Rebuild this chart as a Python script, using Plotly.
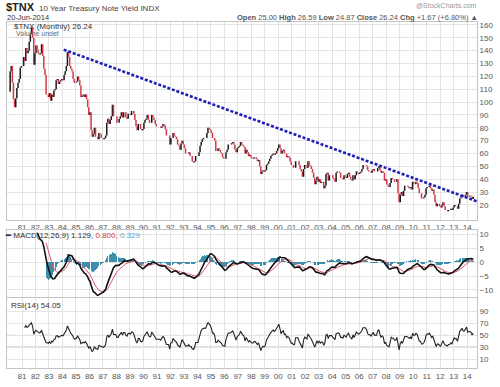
import numpy as np
import pandas as pd
import plotly.graph_objects as go

# ---- Monthly $TNX closes (yield x10) ----
tnx_1980 = [108, 124, 128, 115, 102, 96, 103, 111, 115, 118, 127, 128]
tnx_1981 = [128, 135, 132, 142, 138, 140, 147, 153, 158, 150, 129, 138]
tnx_1982 = [144, 141, 138, 137, 138, 145, 136, 126, 121, 106, 106, 104]
tnx_1983 = [107, 101, 106, 104, 109, 110, 117, 118, 114, 116, 117, 118]
tnx_1984 = [117, 121, 124, 128, 139, 135, 128, 126, 124, 118, 115, 115]
tnx_1985 = [116, 120, 117, 113, 104, 105, 106, 104, 106, 102, 96, 90]
tnx_1986 = [92, 78, 73, 75, 80, 73, 73, 71, 76, 75, 72, 72]
tnx_1987 = [71, 72, 74, 84, 87, 83, 86, 89, 98, 89, 89, 89]
tnx_1988 = [84, 84, 87, 89, 92, 88, 92, 92, 88, 87, 91, 91]
tnx_1989 = [90, 93, 93, 91, 86, 81, 78, 83, 83, 79, 78, 79]
tnx_1990 = [84, 86, 87, 90, 86, 84, 84, 90, 88, 86, 83, 81]
tnx_1991 = [81, 81, 81, 80, 81, 83, 82, 79, 74, 74, 74, 67]
tnx_1992 = [72, 72, 76, 74, 73, 71, 67, 66, 63, 68, 70, 67]
tnx_1993 = [64, 60, 60, 60, 61, 58, 58, 54, 53, 54, 58, 58]
tnx_1994 = [58, 61, 66, 69, 71, 72, 72, 72, 76, 80, 79, 78]
tnx_1995 = [76, 72, 72, 70, 62, 62, 64, 63, 61, 60, 57, 56]
tnx_1996 = [56, 61, 63, 67, 67, 67, 68, 69, 67, 63, 61, 64]
tnx_1997 = [65, 66, 69, 67, 66, 65, 60, 63, 61, 58, 59, 57]
tnx_1998 = [56, 56, 57, 57, 56, 54, 55, 50, 44, 46, 47, 46]
tnx_1999 = [47, 51, 52, 54, 56, 58, 59, 60, 59, 60, 62, 64]
tnx_2000 = [67, 64, 60, 62, 63, 60, 60, 57, 58, 57, 54, 51]
tnx_2001 = [51, 49, 49, 54, 54, 54, 51, 48, 46, 42, 48, 51]
tnx_2002 = [50, 49, 54, 51, 50, 48, 45, 41, 36, 39, 42, 38]
tnx_2003 = [40, 37, 38, 38, 33, 35, 44, 45, 39, 43, 43, 43]
tnx_2004 = [41, 40, 38, 45, 46, 46, 45, 41, 41, 40, 43, 42]
tnx_2005 = [41, 44, 45, 42, 40, 39, 43, 40, 43, 46, 45, 44]
tnx_2006 = [45, 46, 48, 51, 51, 51, 50, 47, 46, 46, 45, 47]
tnx_2007 = [48, 46, 46, 46, 49, 50, 47, 45, 46, 45, 39, 40]
tnx_2008 = [36, 35, 34, 37, 41, 40, 40, 38, 38, 40, 29, 22]
tnx_2009 = [28, 30, 27, 31, 35, 35, 35, 34, 33, 34, 32, 38]
tnx_2010 = [36, 36, 38, 37, 33, 29, 29, 25, 25, 26, 28, 33]
tnx_2011 = [34, 34, 35, 33, 31, 32, 28, 22, 19, 21, 21, 19]
tnx_2012 = [18, 20, 22, 19, 16, 16, 15, 16, 16, 17, 16, 18]
tnx_2013 = [20, 19, 19, 17, 21, 25, 26, 28, 26, 26, 28, 30]
tnx_2014 = [26.4, 26.5, 27.2, 26.5, 24.57, 26.24]

# Trend line endpoints (date, value)
trend_dates = ["1984-02-05", "2015-03-28"]
trend_values = [140.8, 20.8]

# Tick labels
tick_dates = ["1981-01-01", "1982-01-01", "1983-01-01", "1984-01-01", "1985-01-01", "1986-01-01",
              "1987-01-01", "1988-01-01", "1989-01-01", "1990-01-01", "1991-01-01", "1992-01-01",
              "1993-01-01", "1994-01-01", "1995-01-01", "1996-01-01", "1997-01-01", "1998-01-01",
              "1999-01-01", "2000-01-01", "2001-01-01", "2002-01-01", "2003-01-01", "2004-01-01",
              "2005-01-01", "2006-01-01", "2007-01-01", "2008-01-01", "2009-01-01", "2010-01-01",
              "2011-01-01", "2012-01-01", "2013-01-01", "2014-01-01"]
tick_labels = ["81", "82", "83", "84", "85", "86", "87", "88", "89", "90", "91", "92", "93", "94",
               "95", "96", "97", "98", "99", "00", "01", "02", "03", "04", "05", "06", "07", "08",
               "09", "10", "11", "12", "13", "14"]
price_ticks = [20, 30, 40, 50, 60, 70, 80, 90, 100, 110, 120, 130, 140, 150, 160]
macd_ticks = [-10, -5, 0, 5, 10]
rsi_ticks = [10, 30, 50, 70, 90]

closes = (tnx_1980 + tnx_1981 + tnx_1982 + tnx_1983 + tnx_1984 + tnx_1985 + tnx_1986 + tnx_1987
          + tnx_1988 + tnx_1989 + tnx_1990 + tnx_1991 + tnx_1992 + tnx_1993 + tnx_1994 + tnx_1995
          + tnx_1996 + tnx_1997 + tnx_1998 + tnx_1999 + tnx_2000 + tnx_2001 + tnx_2002 + tnx_2003
          + tnx_2004 + tnx_2005 + tnx_2006 + tnx_2007 + tnx_2008 + tnx_2009 + tnx_2010 + tnx_2011
          + tnx_2012 + tnx_2013 + tnx_2014)
close = np.array(closes, dtype=float)
n = len(close)
dates = pd.date_range("1980-01-01", periods=n, freq="MS") + pd.Timedelta(days=14)

opens = np.concatenate([[close[0]], close[:-1]])
highs = np.maximum(opens, close)
lows = np.minimum(opens, close)


def ema(values, span):
    values = np.asarray(values, dtype=float)
    out = np.full(len(values), np.nan)
    valid = np.where(~np.isnan(values))[0]
    start = valid[0]
    if len(valid) < span:
        return out
    seed_idx = start + span - 1
    out[seed_idx] = np.mean(values[start:seed_idx + 1])
    k = 2.0 / (span + 1)
    for i in range(seed_idx + 1, len(values)):
        out[i] = values[i] * k + out[i - 1] * (1 - k)
    return out


macd = ema(close, 12) - ema(close, 26)
signal = ema(macd, 9)
hist = macd - signal

# Wilder RSI(14)
delta = np.diff(close)
gain = np.where(delta > 0, delta, 0.0)
loss = np.where(delta < 0, -delta, 0.0)
rsi = np.full(n, np.nan)
ag = gain[:14].mean()
al = loss[:14].mean()
rsi[14] = 100 - 100 / (1 + ag / al) if al > 0 else 100
for i in range(14, len(delta)):
    ag = (ag * 13 + gain[i]) / 14
    al = (al * 13 + loss[i]) / 14
    rsi[i + 1] = 100 - 100 / (1 + ag / al) if al > 0 else 100

FONT = "Liberation Sans, Arial, sans-serif"
GRID = "#e4e4e4"
BORDER = "#c4c4c4"

fig = go.Figure()

fig.add_trace(go.Ohlc(
    x=dates, open=opens, high=highs, low=lows, close=close,
    increasing=dict(line=dict(color="#1a1a1a", width=1.5)),
    decreasing=dict(line=dict(color="#d2384a", width=1.5)),
    tickwidth=0, xaxis="x", yaxis="y", showlegend=False, hoverinfo="skip"))

fig.add_trace(go.Scatter(
    x=trend_dates, y=trend_values, mode="lines",
    line=dict(color="#1f1fb8", width=2.6, dash="3px,1.8px"),
    xaxis="x", yaxis="y", showlegend=False, hoverinfo="skip"))

fig.add_trace(go.Bar(
    x=dates, y=hist, marker=dict(color="#3d8fae", line=dict(width=0)),
    xaxis="x2", yaxis="y2", showlegend=False, hoverinfo="skip"))
fig.add_trace(go.Scatter(
    x=dates, y=signal, mode="lines", line=dict(color="#e0566a", width=1),
    xaxis="x2", yaxis="y2", showlegend=False, hoverinfo="skip"))
fig.add_trace(go.Scatter(
    x=dates, y=macd, mode="lines", line=dict(color="#111111", width=1.6),
    xaxis="x2", yaxis="y2", showlegend=False, hoverinfo="skip"))

fig.add_trace(go.Scatter(
    x=dates, y=rsi, mode="lines", line=dict(color="#222222", width=1.1),
    xaxis="x3", yaxis="y3", showlegend=False, hoverinfo="skip"))

xrange = ["1979-11-22", "2014-09-24"]
xcommon = dict(range=xrange, type="date", tickvals=tick_dates, ticktext=tick_labels,
               showgrid=True, gridcolor=GRID, gridwidth=1, zeroline=False,
               showline=True, mirror=True, linecolor=BORDER, linewidth=1,
               ticks="", tickfont=dict(family=FONT, size=8, color="#555"),
               rangeslider=dict(visible=False), fixedrange=True)
ycommon = dict(side="right", showgrid=True, gridcolor=GRID, gridwidth=1, zeroline=False,
               showline=True, mirror=True, linecolor=BORDER, linewidth=1,
               ticks="", tickfont=dict(family=FONT, size=8, color="#555"), fixedrange=True)

H_TOP, H_BOT = 22, 372
def py(y):
    return (H_BOT - y) / (H_BOT - H_TOP)
def px(x):
    return (x - 6) / 472

fig.update_layout(
    width=500, height=387,
    margin=dict(l=6, r=22, t=22, b=15),
    paper_bgcolor="white", plot_bgcolor="white",
    bargap=0, showlegend=False,
    font=dict(family=FONT, size=8, color="#333"),
    xaxis=dict(xcommon, anchor="y", showticklabels=True),
    xaxis2=dict(xcommon, anchor="y2", matches="x", showticklabels=False),
    xaxis3=dict(xcommon, anchor="y3", matches="x", showticklabels=True),
    yaxis=dict(ycommon, domain=[py(222), 1], range=[8.5, 162.3], tickvals=price_ticks),
    yaxis2=dict(ycommon, domain=[py(300), py(232)], range=[-12.5, 11.8], tickvals=macd_ticks),
    yaxis3=dict(ycommon, domain=[0, py(301)], range=[-5, 113.3], tickvals=rsi_ticks),
)

# RSI reference lines
for lvl, dash, col in [(70, "solid", "#8c8c8c"), (30, "solid", "#8c8c8c"), (50, "dash", "#a0a0a0")]:
    fig.add_shape(type="line", xref="x3 domain", yref="y3", x0=0, x1=1, y0=lvl, y1=lvl,
                  line=dict(color=col, width=1, dash=dash), layer="below")

def note(text, x, y, size=8, color="#333", anchor="left"):
    fig.add_annotation(text=text, x=px(x), y=py(y), xref="paper", yref="paper",
                       xanchor=anchor, yanchor="middle", showarrow=False,
                       font=dict(family=FONT, size=size, color=color))

note("<b>$TNX</b>", 3, 7, size=11, color="#222")
note("10 Year Treasury Note Yield INDX", 36, 8, size=8, color="#444")
note("20-Jun-2014", 4, 17, size=7.5, color="#333")
note("@StockCharts.com", 480, 5, size=7, color="#999", anchor="right")
note("<b>Open</b> 25.00 <b>High</b> 26.59 <b>Low</b> 24.87 <b>Close</b> 26.24 "
     "<b>Chg</b> +1.67 (+6.80%) ▲", 481, 17, size=7.5, color="#555", anchor="right")
note("$TNX (Monthly) 26.24", 11, 27, size=8, color="#333")
note("Volume undef", 13, 34, size=7, color="#666")
note("<b>━</b> MACD(12,26,9) 1.129, <span style='color:#d03a4a'>0.800,</span> "
     "<span style='color:#5aa8d0'>0.329</span>", 2, 238, size=8, color="#333")
note("RSI(14) 54.05", 8, 309, size=8, color="#333")

fig.write_html("out.html",
               config={"displayModeBar": False, "staticPlot": True},
               post_script="document.body.style.margin='0';document.body.style.overflow='hidden';")
